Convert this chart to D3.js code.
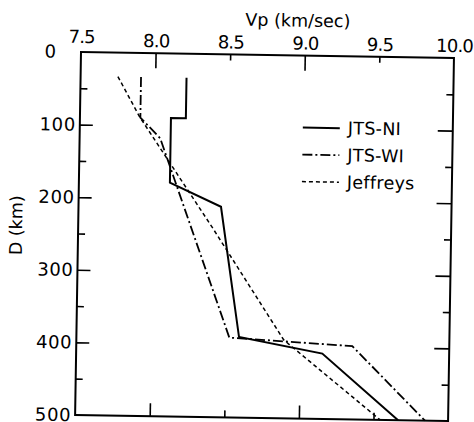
<!DOCTYPE html>
<html>
<head>
<meta charset="utf-8">
<script src="https://cdn.jsdelivr.net/npm/d3@7"></script>
<style>
  body { margin: 0; background: #fff; }
  text { font-family: "DejaVu Sans", sans-serif; fill: #000; }
</style>
</head>
<body>
<svg id="chart"></svg>
<script>
// P-wave velocity profiles
const niVp    = [8.21, 8.21, 8.11, 8.11, 8.455, 8.59, 9.15, 9.665];
const niDepth = [33,   89,   89,   178,  210,   389,  410,  500];

const wiVp    = [7.905, 7.905, 8.04, 8.525, 9.35, 9.845];
const wiDepth = [33,    89,    117,  390,   399,  500];

const jeffVp    = [7.75, 7.90, 8.40, 8.89, 9.545];
const jeffDepth = [33,   88,   239,  392,  500];

const xTickLabels = [7.5, 8.0, 8.5, 9.0, 9.5, 10.0];
const xMajor = [8.0, 9.0];
const xMinor = [8.5, 9.5];
const yTickLabels = [100, 200, 300, 400, 500];
const yMajor = [100, 200, 300, 400];
const yMinor = [50, 150, 250, 350, 450];

const seriesNames = ["JTS-NI", "JTS-WI", "Jeffreys"];

const width = 474, height = 422;
const plot = { left: 81, top: 52, w: 373, h: 363 };
const lineStyles = {
  "JTS-NI":   { dash: null,          width: 2 },
  "JTS-WI":   { dash: "10,3,2,3",    width: 1.8 },
  "Jeffreys": { dash: "4,3",         width: 1.5 }
};

const svg = d3.select("#chart")
  .attr("width", width)
  .attr("height", height);

// the scanned figure is slightly rotated
const g = svg.append("g")
  .attr("transform", `translate(${plot.left},${plot.top}) rotate(0.93)`);

const x = d3.scaleLinear().domain([7.5, 10]).range([0, plot.w]);
const y = d3.scaleLinear().domain([0, 500]).range([0, plot.h]);

const tickAxis = (axis, values, size) => axis.tickValues(values).tickSize(size).tickFormat("");

const addTicks = (axis, transform) => {
  const a = g.append("g").attr("transform", transform).call(axis);
  a.select(".domain").remove();
  a.selectAll("line").attr("stroke", "#000").attr("stroke-width", 1.6);
};

// inward ticks on all four sides
addTicks(tickAxis(d3.axisTop(x), xMajor, -15), "translate(0,0)");
addTicks(tickAxis(d3.axisTop(x), xMinor, -6), "translate(0,0)");
addTicks(tickAxis(d3.axisBottom(x), xMajor, -13), `translate(0,${plot.h})`);
addTicks(tickAxis(d3.axisBottom(x), xMinor, -7), `translate(0,${plot.h})`);
addTicks(tickAxis(d3.axisLeft(y), yMajor, -13), "translate(0,0)");
addTicks(tickAxis(d3.axisLeft(y), yMinor, -7), "translate(0,0)");
addTicks(tickAxis(d3.axisRight(y), yMajor, -15), `translate(${plot.w},0)`);
addTicks(tickAxis(d3.axisRight(y), yMinor, -7), `translate(${plot.w},0)`);

// frame
g.append("rect")
  .attr("x", 0).attr("y", 0)
  .attr("width", plot.w).attr("height", plot.h)
  .attr("fill", "none")
  .attr("stroke", "#000")
  .attr("stroke-width", 2);

// tick labels
const topLabels = g.append("g")
  .call(d3.axisTop(x).tickValues(xTickLabels).tickSize(0).tickPadding(6).tickFormat(d3.format(".1f")));
topLabels.select(".domain").remove();
topLabels.selectAll("text")
  .attr("font-size", 18)
  .attr("font-family", "DejaVu Sans, sans-serif")
  .attr("letter-spacing", -0.8)
  .attr("dy", d => d === 7.5 ? -3 : 0);

const leftLabels = g.append("g")
  .call(d3.axisLeft(y).tickValues(yTickLabels).tickSize(0).tickPadding(4));
leftLabels.select(".domain").remove();
leftLabels.selectAll("text")
  .attr("font-size", 18)
  .attr("font-family", "DejaVu Sans, sans-serif")
  .attr("letter-spacing", 0.6);

g.append("text")
  .attr("x", -25).attr("y", y(0) + 6)
  .attr("text-anchor", "end")
  .attr("font-size", 18)
  .text("0");

// axis titles
g.append("text")
  .attr("x", x(8.95)).attr("y", -29)
  .attr("text-anchor", "middle")
  .attr("font-size", 17.5)
  .text("Vp (km/sec)");

g.append("text")
  .attr("transform", `translate(-56,${y(240)}) rotate(-90)`)
  .attr("text-anchor", "middle")
  .attr("font-size", 17.5)
  .text("D (km)");

// profiles
const series = [
  { name: "JTS-NI", vp: niVp, depth: niDepth },
  { name: "JTS-WI", vp: wiVp, depth: wiDepth },
  { name: "Jeffreys", vp: jeffVp, depth: jeffDepth }
];

const line = d3.line().x(d => x(d[0])).y(d => y(d[1]));

g.selectAll("path.profile")
  .data(series)
  .enter()
  .append("path")
  .attr("class", "profile")
  .attr("fill", "none")
  .attr("stroke", "#000")
  .attr("stroke-width", d => lineStyles[d.name].width)
  .attr("stroke-dasharray", d => lineStyles[d.name].dash)
  .attr("d", d => line(d.vp.map((v, i) => [v, d.depth[i]])));

// legend
const legend = g.append("g").attr("transform", "translate(223,72)");
const items = legend.selectAll("g")
  .data(seriesNames)
  .enter()
  .append("g")
  .attr("transform", (d, i) => `translate(0,${i * 27})`);

items.append("line")
  .attr("x1", 0).attr("x2", 37)
  .attr("y1", 0).attr("y2", 0)
  .attr("stroke", "#000")
  .attr("stroke-width", d => lineStyles[d].width)
  .attr("stroke-dasharray", d => lineStyles[d].dash);

items.append("text")
  .attr("x", 45).attr("y", 6)
  .attr("font-size", 17.5)
  .attr("letter-spacing", 0.3)
  .text(d => d);
</script>
</body>
</html>
